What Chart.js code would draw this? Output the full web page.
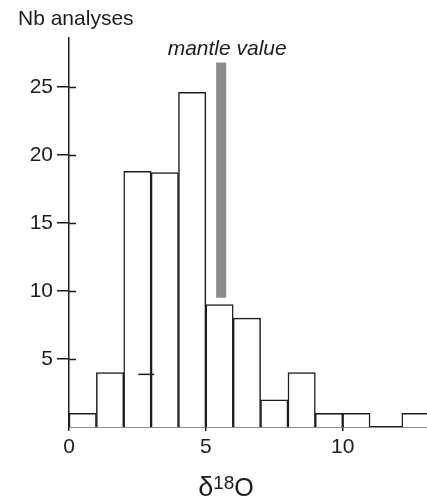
<!DOCTYPE html>
<html>
<head>
<meta charset="utf-8">
<script src="https://cdn.jsdelivr.net/npm/chart.js@4.4.1/dist/chart.umd.min.js"></script>
<style>
  html, body { margin: 0; padding: 0; background: #fff; }
  canvas { display: block; }
</style>
</head>
<body>
<canvas id="histChart" width="427" height="499"></canvas>
<script>
// --------------------------------------------------- DATA
// bin centres on the d18O axis (bins are 1 unit wide, 11-12 is empty)
const binCenters = [0.5, 1.5, 2.5, 3.5, 4.5, 5.5, 6.5, 7.5, 8.5, 9.5, 10.5, 12.66]
const binCounts = [1, 4, 18.8, 18.7, 24.6, 9, 8, 2, 4, 1, 1, 1]
// grey band marking the mantle value
const mantleX = [5.56, 5.56]
const mantleY = [9.5, 26.8]
// small stray dash drawn in the figure
const dashPoint = [{ x: 2.82, y: 3.87 }]
const xTicks = [0, 5, 10]
const yTicks = [5, 10, 15, 20, 25]

const FONT = '"Liberation Sans", Arial, sans-serif'
const INK = '#1c1c1c'

// --------------------------------------------------- PLUGINS
const extras = {
  id: 'extras',
  afterDraw(chart) {
    const ctx = chart.ctx
    const area = chart.chartArea
    const x = chart.scales.x
    const y = chart.scales.y
    ctx.save()
    // inner part of the y ticks
    ctx.strokeStyle = INK
    ctx.lineWidth = 1.5
    yTicks.forEach(v => {
      const py = Math.round(y.getPixelForValue(v)) + 0.5
      ctx.beginPath()
      ctx.moveTo(area.left, py)
      ctx.lineTo(area.left + 7, py)
      ctx.stroke()
    })
    ctx.fillStyle = INK
    // y title
    ctx.font = '21px ' + FONT
    ctx.textAlign = 'left'
    ctx.textBaseline = 'alphabetic'
    ctx.fillText('Nb analyses', 18, 25)
    // mantle label
    ctx.font = 'italic 21px ' + FONT
    ctx.textAlign = 'center'
    ctx.fillText('mantle value', x.getPixelForValue(mantleX[0]) + 6, 55)
    // x title: delta 18 O
    const parts = [
      { t: '\u03b4', f: '27px ' + FONT, dy: 0 },
      { t: '18', f: '19px ' + FONT, dy: -7 },
      { t: 'O', f: '25px ' + FONT, dy: 0 }
    ]
    let w = 0
    parts.forEach(p => { ctx.font = p.f; p.w = ctx.measureText(p.t).width; w += p.w })
    let px = 226 - w / 2
    ctx.textAlign = 'left'
    parts.forEach(p => {
      ctx.font = p.f
      ctx.fillText(p.t, px, 496 + p.dy)
      px += p.w
    })
    ctx.restore()
  }
}

// --------------------------------------------------- CHART
new Chart(document.getElementById('histChart'), {
  data: {
    datasets: [
      {
        type: 'line',
        data: mantleX.map((v, i) => ({ x: v, y: mantleY[i] })),
        borderColor: '#8c8c8c',
        borderWidth: 10,
        borderCapStyle: 'butt',
        pointRadius: 0
      },
      {
        type: 'scatter',
        data: dashPoint,
        pointStyle: 'line',
        radius: 8,
        borderColor: INK,
        borderWidth: 1.5
      },
      {
        type: 'bar',
        data: binCenters.map((v, i) => ({ x: v, y: binCounts[i] })),
        backgroundColor: '#ffffff',
        borderColor: INK,
        borderWidth: 1.5,
        barPercentage: 1,
        categoryPercentage: 1
      }
    ]
  },
  options: {
    responsive: false,
    animation: false,
    layout: { autoPadding: false, padding: { top: 38, left: 0, right: 0, bottom: 0 } },
    plugins: { legend: { display: false }, tooltip: { enabled: false } },
    scales: {
      x: {
        type: 'linear',
        min: 0,
        max: 13.08,
        offset: false,
        afterBuildTicks: scale => { scale.ticks = xTicks.map(v => ({ value: v })) },
        afterFit: scale => {
          scale.height = 72
          scale.paddingLeft = 0
          scale.paddingRight = 0
        },
        grid: { offset: false, drawOnChartArea: false, drawTicks: true, tickLength: 4, color: INK, lineWidth: 1.5 },
        border: { color: INK, width: 1.5 },
        ticks: { color: INK, font: { family: FONT, size: 21 }, padding: 4, maxRotation: 0 }
      },
      y: {
        min: 0,
        max: 28.6,
        afterBuildTicks: scale => { scale.ticks = yTicks.map(v => ({ value: v })) },
        afterFit: scale => {
          scale.width = 69
          scale.paddingTop = 0
          scale.paddingBottom = 0
        },
        grid: { drawOnChartArea: false, drawTicks: true, tickLength: 12, color: INK, lineWidth: 1.5 },
        border: { color: INK, width: 1.5 },
        ticks: { color: INK, font: { family: FONT, size: 21 }, padding: 4 }
      }
    }
  },
  plugins: [extras]
})
</script>
</body>
</html>
